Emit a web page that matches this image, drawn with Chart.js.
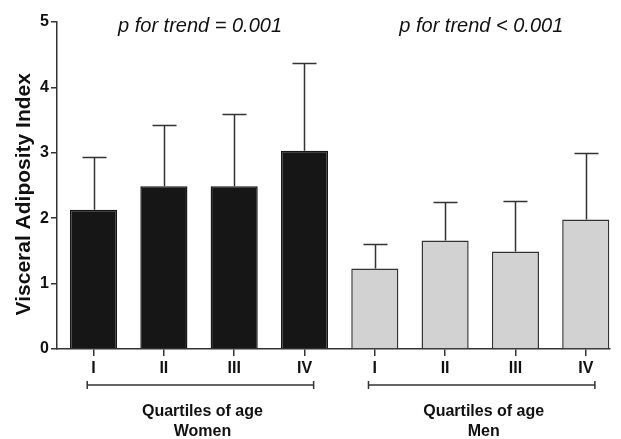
<!DOCTYPE html>
<html>
<head>
<meta charset="utf-8">
<script src="https://cdn.jsdelivr.net/npm/chart.js@4.4.1/dist/chart.umd.min.js"></script>
<style>
  html, body { margin: 0; padding: 0; background: #fff; }
  #wrap { width: 621px; height: 439px; }
</style>
</head>
<body>
<div id="wrap"><canvas id="vai"></canvas></div>
<script>
// quartile labels, bar means and top of the error bars (mean + SD)
var quartiles = ['I', 'II', 'III', 'IV'];
var women = [2.13, 2.49, 2.49, 3.03];
var womenErr = [2.94, 3.43, 3.60, 4.38];
var men = [1.23, 1.66, 1.49, 1.98];
var menErr = [1.61, 2.25, 2.27, 2.99];
var groups = ['Women', 'Men'];
var groupTitle = 'Quartiles of age';
var trendText = ['p for trend = 0.001', 'p for trend < 0.001'];
var yTicks = [0, 1, 2, 3, 4, 5];

var FONT = "'Liberation Sans', Arial, sans-serif";
var INK = '#333';

var xLabels = quartiles.concat(quartiles);

function toPoints(vals, offset) {
    var pts = [];
    for (var i in vals) {
        pts.push({x: Number(i) + offset, y: vals[i]});
    }
    return pts;
}

var extras = {
    id: 'extras',
    afterDatasetsDraw: function(chart) {
        var ctx = chart.ctx;
        var xs = chart.scales.x;
        var ys = chart.scales.y;
        ctx.save();
        ctx.strokeStyle = INK;
        ctx.lineWidth = 1.5;

        // error bars, upper half only
        [womenErr, menErr].forEach(function(errs, d) {
            var meta = chart.getDatasetMeta(d);
            meta.data.forEach(function(bar, i) {
                var top = Math.round(ys.getPixelForValue(errs[i])) + 0.5;
                var cx = Math.round(bar.x) + 0.5;
                ctx.beginPath();
                ctx.moveTo(cx, bar.y);
                ctx.lineTo(cx, top);
                ctx.moveTo(cx - 12, top);
                ctx.lineTo(cx + 12, top);
                ctx.stroke();
            });
        });

        // group brackets + labels under the axis
        var by = ys.bottom + 36;
        groups.forEach(function(g, k) {
            var first = k * 4, last = k * 4 + 3;
            var x0 = xs.getPixelForValue(first - 0.09);
            var x1 = xs.getPixelForValue(last + 0.13);
            ctx.beginPath();
            ctx.moveTo(x0, by); ctx.lineTo(x1, by);
            ctx.moveTo(x0, by - 4); ctx.lineTo(x0, by + 4);
            ctx.moveTo(x1, by - 4); ctx.lineTo(x1, by + 4);
            ctx.stroke();

            var cx = (x0 + x1) / 2 + 2;
            ctx.fillStyle = '#111';
            ctx.textAlign = 'center';
            ctx.textBaseline = 'middle';
            ctx.font = 'bold 16px ' + FONT;
            ctx.fillText(groupTitle, cx, by + 27);
            ctx.fillText(g, cx, by + 47);

            // trend p-value above each group
            var tx = (xs.getPixelForValue(first) + xs.getPixelForValue(last)) / 2 + 1;
            ctx.font = 'italic 20px ' + FONT;
            ctx.fillText(trendText[k], tx, ys.getPixelForValue(4.93));
        });
        ctx.restore();
    }
};

var ctx = document.getElementById('vai');
var vaiChart = new Chart(ctx, {
    type: 'bar',
    data: {
        datasets: [
            {
                label: groups[0],
                data: toPoints(women, 0),
                backgroundColor: '#161616',
                borderColor: '#161616',
                borderWidth: 1.5
            },
            {
                label: groups[1],
                data: toPoints(men, 4),
                backgroundColor: '#d2d2d2',
                borderColor: INK,
                borderWidth: 1.5
            }
        ]
    },
    options: {
        responsive: true,
        maintainAspectRatio: false,
        animation: false,
        grouped: false,
        categoryPercentage: 1,
        barPercentage: 0.67,
        layout: { padding: { top: 22, right: 11, left: 0, bottom: 0 } },
        plugins: {
            legend: { display: false },
            tooltip: { enabled: false }
        },
        scales: {
            x: {
                type: 'linear',
                offset: false,
                min: -0.52,
                max: 7.345,
                afterFit: function(scale) { scale.height = 90; },
                afterBuildTicks: function(scale) {
                    scale.ticks = xLabels.map(function(l, i) { return {value: i}; });
                },
                border: { display: true, color: INK, width: 1.5 },
                grid: { display: true, offset: false, drawOnChartArea: false, drawTicks: true, tickLength: 7, color: INK, lineWidth: 1.5 },
                ticks: {
                    autoSkip: false,
                    maxRotation: 0,
                    padding: 3,
                    color: '#111',
                    font: { family: FONT, size: 16, weight: 'bold' },
                    callback: function(v) {
                        return xLabels[v];
                    }
                }
            },
            y: {
                min: 0,
                max: 5,
                afterFit: function(scale) { scale.width = 57; },
                afterBuildTicks: function(scale) {
                    scale.ticks = yTicks.map(function(v) { return {value: v}; });
                },
                border: { display: true, color: INK, width: 1.5 },
                grid: { display: true, drawOnChartArea: false, drawTicks: true, tickLength: 6, color: INK, lineWidth: 1.5 },
                ticks: {
                    padding: 2,
                    color: '#111',
                    font: { family: FONT, size: 16, weight: 'bold' }
                },
                title: {
                    display: true,
                    // trailing spaces nudge the rotated title down a little
                    text: 'Visceral Adiposity Index   ',
                    color: '#111',
                    padding: { top: 12, bottom: 0 },
                    font: { family: FONT, size: 21, weight: 'bold' }
                }
            }
        }
    },
    plugins: [extras]
});
</script>
</body>
</html>
